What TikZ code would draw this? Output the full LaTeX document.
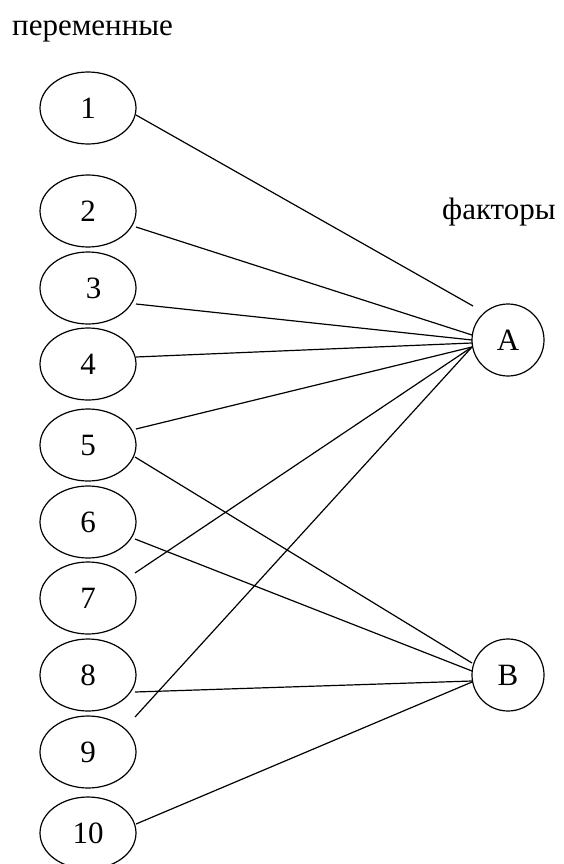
\documentclass[tikz,border=0pt]{standalone}
\usepackage{fontspec}
\setmainfont{Liberation Serif}
\usetikzlibrary{calc,shapes.geometric}
\begin{document}
\begin{tikzpicture}[x=1pt,y=-1pt,
  every node/.style={font=\fontsize{31}{36}\selectfont},
  var/.style={ellipse,draw,line width=1.2pt,minimum width=96pt,minimum height=72pt,inner sep=0pt},
  fac/.style={circle,draw,line width=1.2pt,minimum size=72pt,inner sep=0pt},
  link/.style={line width=1.2pt},
  lbl/.style={inner sep=0pt,anchor=base west}]
\useasboundingbox (0,0) rectangle (563,864);
\node[lbl] (tv) at (12,36) {переменные};
\node[lbl] (tf) at (442,219) {факторы};
\node[var] (e1) at (88,108) {1};
\node[var] (e2) at (88,211) {2};
\node[var] (e3) at (88,288) {\kern11pt 3};
\node[var] (e4) at (88,364) {4};
\node[var] (e5) at (88,445) {5};
\node[var] (e6) at (88,522) {6};
\node[var] (e7) at (88,598) {7};
\node[var] (e8) at (88,675) {8};
\node[var] (e9) at (88,752) {9};
\node[var] (e10) at (88,833) {10};
\node[fac] (A) at (508,340) {A};
\node[fac] (B) at (508,675) {B};
\draw[link] ($(e1)+(48,7)$) -- ($(A)+(-35,-34)$);
\draw[link] ($(e2)+(48,16)$) -- ($(A)+(-36,-5)$);
\draw[link] ($(e3)+(48,16)$) -- ($(A)+(-36,0)$);
\draw[link] ($(e4)+(48,-7)$) -- ($(A)+(-36,3)$);
\draw[link] ($(e5)+(48,-16)$) -- ($(A)+(-36,7)$);
\draw[link] ($(e7)+(47,-25)$) -- ($(A)+(-36,7)$);
\draw[link] ($(e9)+(47,-35)$) -- ($(A)+(-36,7)$);
\draw[link] ($(e5)+(47,12)$) -- ($(B)+(-36,-12)$);
\draw[link] ($(e6)+(47,17)$) -- ($(B)+(-36,-4)$);
\draw[link] ($(e8)+(47,17)$) -- ($(B)+(-36,6)$);
\draw[link] ($(e10)+(48,-9)$) -- ($(B)+(-36,7)$);
\end{tikzpicture}
\end{document}
